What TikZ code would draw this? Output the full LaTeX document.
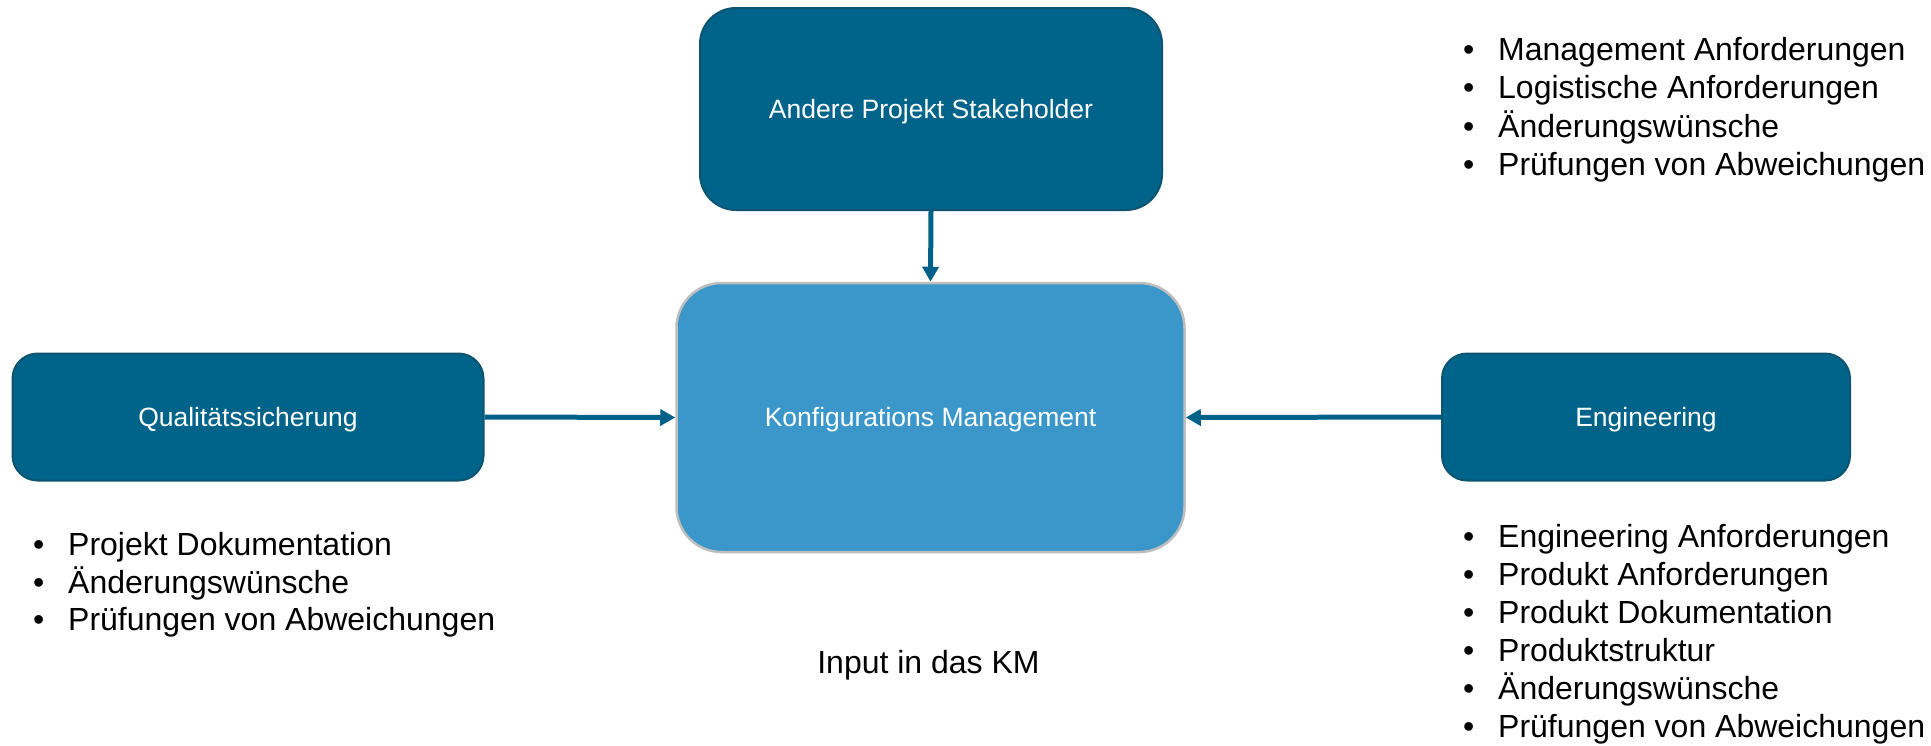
\documentclass[tikz,border=0pt]{standalone}
\usepackage{fontspec}
\setmainfont{Liberation Sans}
\usetikzlibrary{arrows.meta}
\definecolor{darkfill}{RGB}{0,100,138}
\definecolor{darkline}{RGB}{12,84,112}
\definecolor{midfill}{RGB}{59,151,202}
\definecolor{midline}{RGB}{190,190,190}
\definecolor{arrowc}{RGB}{0,98,137}
\begin{document}
\begin{tikzpicture}[x=1pt,y=-1pt,
  darkbox/.style={draw=darkline, line width=2pt, fill=darkfill, text=white,
    font=\fontsize{26.5}{31}\selectfont, inner sep=0pt},
  midbox/.style={draw=midline, line width=2.5pt, fill=midfill, text=white,
    font=\fontsize{26.5}{31}\selectfont, inner sep=0pt},
  boxlabel/.style={anchor=center, inner sep=0pt, text=white, font=\fontsize{26.5}{31}\selectfont},
  arr/.style={draw=arrowc, line width=5pt, -{Triangle[length=15pt,width=16pt]}},
  listline/.style={anchor=base west, inner sep=0pt, font=\fontsize{32}{38}\selectfont},
  plain/.style={anchor=base, inner sep=0pt, font=\fontsize{32}{38}\selectfont}]
\useasboundingbox (0,0) rectangle (1931,745);
\fill[white] (0,0) rectangle (1931,745);
\newcommand{\bl}[1]{\makebox[35pt][l]{\textbullet}#1}

\node[darkbox, rounded corners=36pt, minimum width=462pt, minimum height=202pt] (stake) at (931,109) {};
\node[midbox, rounded corners=45pt, minimum width=508pt, minimum height=269pt] (km) at (930.5,417.5) {};
\node[darkbox, rounded corners=25pt, minimum width=471pt, minimum height=127pt] (qs) at (248,417) {};
\node[darkbox, rounded corners=25pt, minimum width=408pt, minimum height=127pt] (eng) at (1646,417) {};

\node[boxlabel, yshift=-2.5pt] (stakelabel) at (stake.center) {Andere Projekt Stakeholder};
\node[boxlabel, yshift=-2.5pt] (kmlabel) at (km.center) {Konfigurations Management};
\node[boxlabel, yshift=-2.5pt] (qslabel) at (qs.center) {Qualitätssicherung};
\node[boxlabel, yshift=-2.5pt] (englabel) at (eng.center) {Engineering};

\draw[arr] (stake.south) -- (km.north);
\draw[arr] (qs.east) -- (km.west);
\draw[arr] (eng.west) -- (km.east);

\node[listline] (t1) at (1463,60) {\bl{Management Anforderungen}};
\node[listline] (t2) at (1463,98) {\bl{Logistische Anforderungen}};
\node[listline] (t3) at (1463,137) {\bl{Änderungswünsche}};
\node[listline] (t4) at (1463,175) {\bl{Prüfungen von Abweichungen}};

\node[listline] (l1) at (33,555) {\bl{Projekt Dokumentation}};
\node[listline] (l2) at (33,593) {\bl{Änderungswünsche}};
\node[listline] (l3) at (33,630) {\bl{Prüfungen von Abweichungen}};

\node[listline] (r1) at (1463,547) {\bl{Engineering Anforderungen}};
\node[listline] (r2) at (1463,585) {\bl{Produkt Anforderungen}};
\node[listline] (r3) at (1463,623) {\bl{Produkt Dokumentation}};
\node[listline] (r4) at (1463,661) {\bl{Produktstruktur}};
\node[listline] (r5) at (1463,699) {\bl{Änderungswünsche}};
\node[listline] (r6) at (1463,737) {\bl{Prüfungen von Abweichungen}};

\node[plain] (input) at (928.5,673) {Input in das KM};
\end{tikzpicture}
\end{document}
